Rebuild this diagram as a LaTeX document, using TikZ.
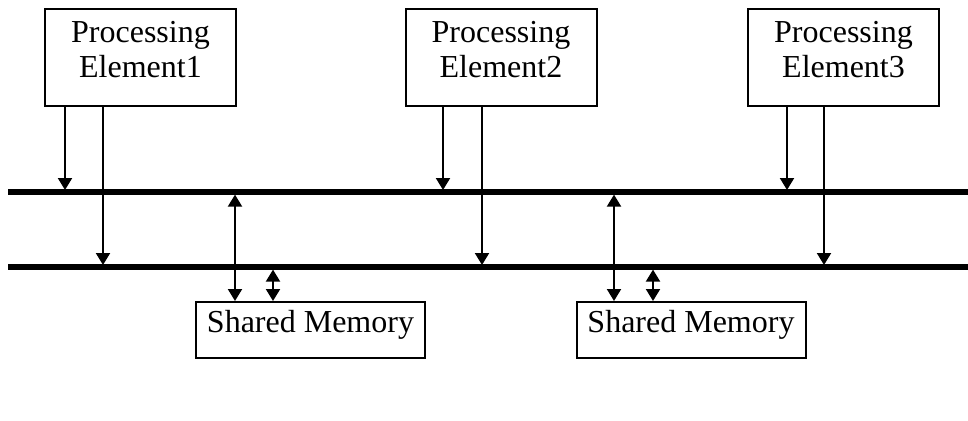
\documentclass[tikz,border=0pt]{standalone}
\usepackage{fontspec}
\setmainfont{Liberation Serif}
\usetikzlibrary{arrows.meta}
\begin{document}
\begin{tikzpicture}[
    x=0.5pt,y=-0.5pt,
    pebox/.style={draw, line width=1pt, inner sep=0pt, align=center,
      minimum width=95.5pt, minimum height=48.5pt, text depth=8.5pt,
      font=\fontsize{16}{17.5}\selectfont},
    membox/.style={draw, line width=1pt, inner sep=0pt,
      minimum width=114.5pt, minimum height=28pt,
      text height=11pt, text depth=9pt,
      font=\fontsize{16}{17.5}\selectfont},
    bus/.style={line width=2.7pt},
    arr/.style={line width=1pt, shorten >=1pt, -{Triangle[length=6pt,width=7pt]}},
    darr/.style={line width=1pt, shorten <=1.3pt,
      {Triangle[length=6pt,width=7pt]}-{Triangle[length=6pt,width=7pt]}}
    ]
    \useasboundingbox (0,0) rectangle (968,420);
    \node[pebox] (pe1) at (140.5,57.5) {Processing\\Element1};
    \node[pebox] (pe2) at (501,57.5) {Processing\\Element2};
    \node[pebox] (pe3) at (843.5,57.5) {Processing\\Element3};
    \node[membox] (sm1) at (310.5,330) {Shared Memory};
    \node[membox] (sm2) at (691,330) {Shared Memory};
    % the two buses
    \coordinate (busA-w) at (8,192);
    \coordinate (busA-e) at (968,192);
    \coordinate (busB-w) at (8,267);
    \coordinate (busB-e) at (968,267);
    \draw[bus] (busA-w) -- (busA-e);
    \draw[bus] (busB-w) -- (busB-e);
    % processing elements to buses
    \draw[arr] (65,0 |- pe1.south) -- (65,0 |- busA-w);
    \draw[arr] (103,0 |- pe1.south) -- (103,0 |- busB-w);
    \draw[arr] (443,0 |- pe2.south) -- (443,0 |- busA-w);
    \draw[arr] (482,0 |- pe2.south) -- (482,0 |- busB-w);
    \draw[arr] (787,0 |- pe3.south) -- (787,0 |- busA-w);
    \draw[arr] (824,0 |- pe3.south) -- (824,0 |- busB-w);
    % buses to shared memories
    \draw[darr] (235,0 |- busA-w) -- (235,0 |- sm1.north);
    \draw[darr] (273,0 |- busB-w) -- (273,0 |- sm1.north);
    \draw[darr] (614,0 |- busA-w) -- (614,0 |- sm2.north);
    \draw[darr] (653,0 |- busB-w) -- (653,0 |- sm2.north);
\end{tikzpicture}
\end{document}
